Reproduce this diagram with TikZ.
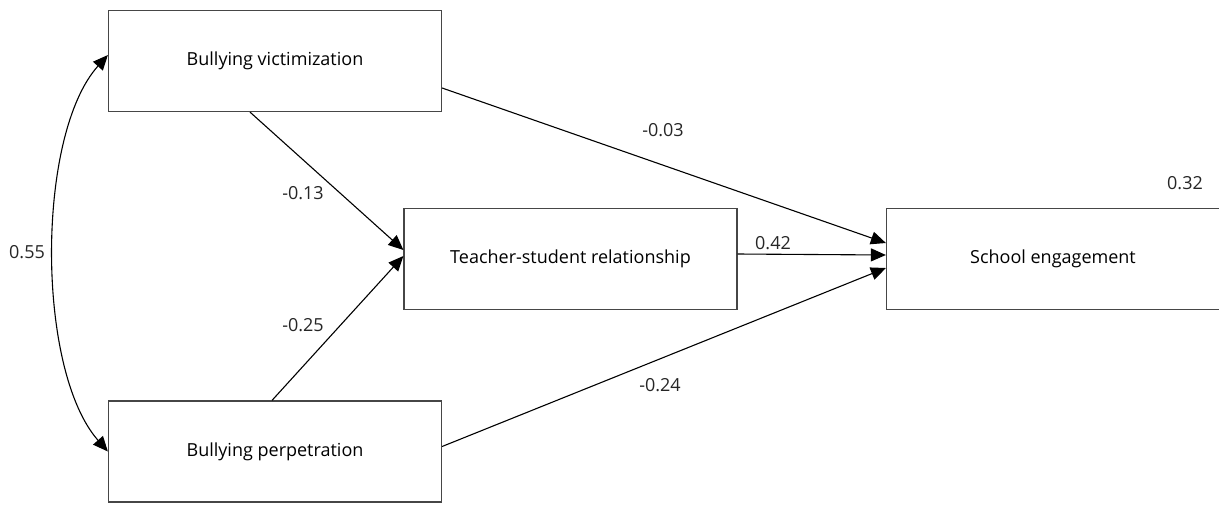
\documentclass[tikz,border=0pt]{standalone}
\usepackage{fontspec}
\setmainfont{Open Sans}
\usetikzlibrary{arrows.meta}
\definecolor{boxgray}{RGB}{70, 70, 70}

\begin{document}
\begin{tikzpicture}[x=1pt, y=-1pt,
    font=\fontsize{18}{21}\selectfont,
    var/.style={draw=boxgray, line width=1.2pt, minimum width=333pt, minimum height=101pt, inner sep=0pt},
    path/.style={-{Triangle[length=15pt, width=13pt]}, line width=1.1pt},
    coef/.style={inner sep=0pt, text=black!85}]
        % Frame
        \useasboundingbox (0,0) rectangle (1219,504);

        % Variables
        \node[var] (vict) at (275,61) {Bullying victimization};
        \node[var] (teach) at (570.5,259) {Teacher-student relationship};
        \node[var] (school) at (1053,259) {School engagement};
        \node[var] (perp) at (275,451.5) {Bullying perpetration};

        % Paths
        \draw[path] ([xshift=-25pt]vict.south) -- ([yshift=9pt]teach.west);
        \draw[path] ([xshift=-3pt]perp.north) -- ([yshift=3pt]teach.west);
        \draw[path] ([yshift=-27pt]vict.east) -- ([yshift=16pt]school.west);
        \draw[path] ([yshift=5pt]teach.east) -- ([yshift=4pt]school.west);
        \draw[path] ([yshift=5pt]perp.east) -- ([yshift=-9pt]school.west);

        % Correlation
        \draw[path, {Triangle[length=15pt, width=13pt]}-{Triangle[length=15pt, width=13pt]}]
            ([yshift=6pt]vict.west) .. controls (36,135) and (36,370) .. ([yshift=0pt]perp.west);

        % Coefficients
        \node[coef] (c1) at (663,130) {-0.03};
        \node[coef] (c2) at (303,193) {-0.13};
        \node[coef] (c3) at (27,252) {0.55};
        \node[coef] (c4) at (773,243) {0.42};
        \node[coef] (c5) at (303,325) {-0.25};
        \node[coef] (c6) at (660,385) {-0.24};
        \node[coef] (c7) at (1185,183) {0.32};
\end{tikzpicture}
\end{document}
